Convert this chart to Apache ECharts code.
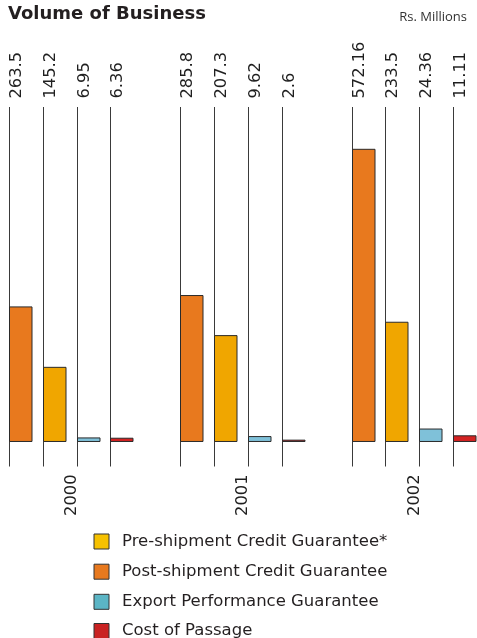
<!DOCTYPE html>
<html>
<head>
<meta charset="utf-8">
<script src="https://cdn.jsdelivr.net/npm/echarts@6/dist/echarts.min.js"></script>
<style>
  html, body { margin: 0; padding: 0; background: #fff; }
  #chart { width: 477px; height: 638px; }
</style>
</head>
<body>
<div id="chart"></div>
<script>
// Volume of business by guarantee type, Rs. Millions
const years = ['2000', '2001', '2002'];
const postShipment = [263.5, 285.8, 572.16];
const preShipment = [145.2, 207.3, 233.5];
const exportPerformance = [6.95, 9.62, 24.36];
const costOfPassage = [6.36, 2.6, 11.11];
const legendNames = [
  'Pre-shipment Credit Guarantee*',
  'Post-shipment Credit Guarantee',
  'Export Performance Guarantee',
  'Cost of Passage'
];
const legendSwatches = ['#F6C100', '#E8791E', '#5BB5C5', '#C92222'];

const FONT = '"DejaVu Sans", "Noto Sans", sans-serif';
const BAR_W = 22.5;
const STEP = 33.7;
const GROUP_W = 3 * STEP + BAR_W;
const Y_MIN = -49;
const Y_MAX = 655;

// each year group sits at x = year index on a plain value axis
function makeSeries(name, values, slot, color) {
  return {
    type: 'custom',
    name: name,
    itemStyle: { color: color, borderColor: '#2a2a2a', borderWidth: 1 },
    data: values.map((v, i) => [i, v]),
    renderItem: function (params, api) {
      const i = api.value(0);
      const v = api.value(1);
      const cs = params.coordSys;
      const base = api.coord([i, 0]);
      const top = api.coord([i, v]);
      const x0 = Math.round(base[0] - GROUP_W / 2 + slot * STEP) + 0.5;
      return {
        type: 'group',
        children: [
          {
            type: 'line',
            shape: { x1: x0, y1: cs.y, x2: x0, y2: cs.y + cs.height },
            style: { stroke: '#3a3a3a', lineWidth: 1 }
          },
          {
            type: 'rect',
            shape: { x: x0, y: top[1], width: BAR_W, height: base[1] - top[1] },
            style: { fill: color, stroke: '#2a2a2a', lineWidth: 1 }
          },
          {
            type: 'text',
            x: x0 + 7,
            y: cs.y - 8.5,
            rotation: Math.PI / 2,
            style: {
              text: String(v),
              fill: '#1f1f1f',
              font: '16.3px ' + FONT,
              align: 'left',
              verticalAlign: 'middle'
            }
          }
        ]
      };
    }
  };
}

// year captions under each group
const yearSeries = {
  type: 'custom',
  name: 'years',
  silent: true,
  data: years.map((y, i) => [i, Y_MIN]),
  renderItem: function (params, api) {
    const i = api.value(0);
    const p = api.coord([i, Y_MIN]);
    return {
      type: 'text',
      x: p[0] + 1,
      y: p[1] + 8,
      rotation: Math.PI / 2,
      style: {
        text: years[i],
        fill: '#1f1f1f',
        font: '16.3px ' + FONT,
        align: 'right',
        verticalAlign: 'middle'
      }
    };
  }
};

// one single-entry legend per row, stacked down the bottom
const legendRowCenters = [541.5, 571.7, 601.8, 631];
const legends = legendNames.map((name, k) => ({
  orient: 'vertical',
  left: 93.5,
  top: legendRowCenters[k] - 10,
  padding: 0,
  itemWidth: 15,
  itemHeight: 15,
  icon: 'rect',
  itemStyle: { borderColor: '#333', borderWidth: 1 },
  textStyle: {
    fontFamily: FONT,
    fontSize: 16.5,
    color: '#231f20',
    lineHeight: 20,
    padding: [0, 0, 0, 8]
  },
  data: [{ name: name, itemStyle: { color: legendSwatches[k] } }]
}));

const chart = echarts.init(document.getElementById('chart'), null, { renderer: 'canvas' });
chart.setOption({
  animation: false,
  backgroundColor: '#ffffff',
  title: [
    {
      text: 'Volume of Business',
      left: 8,
      top: 5,
      padding: 0,
      textStyle: { fontFamily: FONT, fontSize: 18, fontWeight: 'bold', color: '#231f20' }
    },
    {
      text: 'Rs. Millions',
      right: 10,
      top: 10.5,
      padding: 0,
      textStyle: { fontFamily: '"Open Sans", sans-serif', fontSize: 13, fontWeight: 'normal', color: '#333' }
    }
  ],
  legend: legends,
  grid: { left: 0, right: 0, top: 107, height: 359.5 },
  xAxis: {
    type: 'value',
    min: -70.95 / 171.3,
    max: (477 - 70.95) / 171.3,
    show: false,
    splitLine: { show: false }
  },
  yAxis: {
    type: 'value',
    min: Y_MIN,
    max: Y_MAX,
    show: false,
    splitLine: { show: false }
  },
  series: [
    makeSeries('Post-shipment Credit Guarantee', postShipment, 0, '#E8791E'),
    makeSeries('Pre-shipment Credit Guarantee*', preShipment, 1, '#F0A600'),
    makeSeries('Export Performance Guarantee', exportPerformance, 2, '#7FC1D9'),
    makeSeries('Cost of Passage', costOfPassage, 3, '#D42222'),
    yearSeries
  ]
});
</script>
</body>
</html>
